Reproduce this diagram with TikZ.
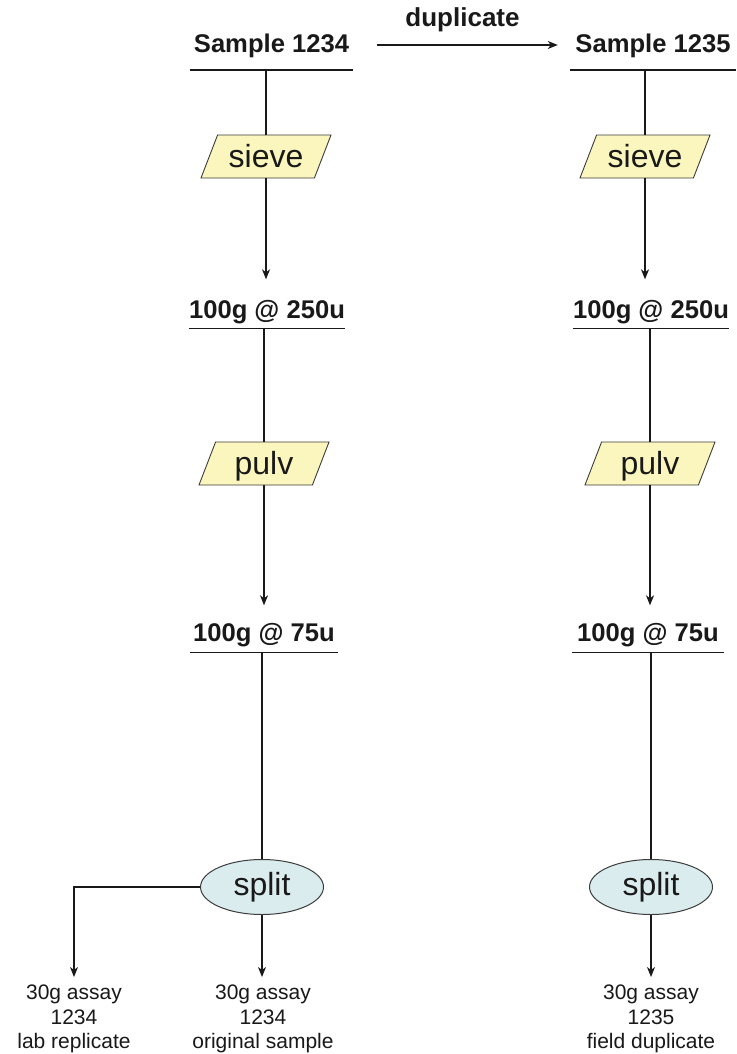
\documentclass[tikz,border=0pt]{standalone}
\usepackage{fontspec}
\setmainfont{Liberation Sans}
\usetikzlibrary{shapes.geometric,arrows.meta,calc}
\definecolor{procfill}{RGB}{250,246,190}
\definecolor{splitfill}{RGB}{218,236,238}
\definecolor{ink}{RGB}{25,25,25}
\begin{document}
\begin{tikzpicture}[x=1pt,y=-1pt,
  every node/.style={text=ink},
  lbl/.style={font=\bfseries\fontsize{25.6}{30}\selectfont, inner sep=0pt, text height=18.5pt, anchor=base},
  proc/.style={shape=trapezium, trapezium left angle=53, trapezium right angle=127, trapezium stretches body,
    minimum width=130pt, minimum height=43pt, inner sep=0pt, text height=22pt, text depth=0pt,
    draw=ink!85, fill=procfill, line width=0.9pt, font=\fontsize{32}{36}\selectfont},
  splitnode/.style={ellipse, minimum width=123pt, minimum height=55pt, inner sep=0pt,
    draw=ink!85, fill=splitfill, line width=1pt, font=\fontsize{32}{36}\selectfont},
  outnode/.style={align=center, font=\fontsize{21}{24.5}\selectfont, inner ysep=8pt, inner xsep=0pt, anchor=north},
  conn/.style={draw=ink, line width=1.2pt},
  arr/.style={conn, -{Stealth[length=10pt,width=8pt,inset=3pt]}},
  uline/.style={draw=ink, line width=1.4pt}
]
\fill[white] (0,0) rectangle (736,1054);
\useasboundingbox (0,0) rectangle (736,1054);

% labels
\node[lbl, minimum width=163pt, text depth=17pt] (s1) at (271.5,53) {Sample 1234};
\node[lbl, minimum width=166pt, text depth=17pt] (s2) at (653,53) {Sample 1235};
\node[lbl, minimum width=150pt, text depth=10pt] (a1) at (267,318) {100g @ 250u};
\node[lbl, minimum width=148pt, text depth=10pt] (a2) at (651,318) {100g @ 250u};
\node[lbl, minimum width=148pt, text depth=11pt] (b1) at (264,641) {100g @ 75u};
\node[lbl, minimum width=152pt, text depth=11pt] (b2) at (648,641) {100g @ 75u};
\foreach \n in {s1,s2,a1,a2,b1,b2}{\draw[uline] (\n.south west) -- (\n.south east);}

% processes
\node[proc] (sv1) at (266,156.5) {sieve};
\node[proc] (sv2) at (645,156.5) {sieve};
\node[proc] (pv1) at (264,463.5) {pulv};
\node[proc] (pv2) at (650,463.5) {pulv};
\node[splitnode] (sp1) at (262,887) {split};
\node[splitnode] (sp2) at (651,887) {split};

% outputs
\node[outnode] (o1) at (74,977) {30g assay\\1234\\lab replicate};
\node[outnode] (o2) at (263,977) {30g assay\\1234\\original sample};
\node[outnode] (o3) at (651,977) {30g assay\\1235\\field duplicate};

% duplicate arrow
\draw[arr] ($(s1.base east)+(24,-8)$) -- node[above=12.5pt, xshift=-5pt, inner sep=0pt, font=\bfseries\fontsize{26}{30}\selectfont] (dup) {duplicate} ($(s2.base west)+(-12,-8)$);

% left column
\draw[conn] (sv1.north |- s1.south) -- (sv1.north);
\draw[arr] (sv1.south) -- ($(sv1.south |- a1.north)+(0,-20)$);
\draw[conn] (pv1.north |- a1.south) -- (pv1.north);
\draw[arr] (pv1.south) -- ($(pv1.south |- b1.north)+(0,-17)$);
\draw[conn] (sp1.north |- b1.south) -- (sp1.north);
\draw[arr] (sp1.west) -| (o1.north);
\draw[arr] (sp1.south) -- (sp1.south |- o2.north);

% right column
\draw[conn] (sv2.north |- s2.south) -- (sv2.north);
\draw[arr] (sv2.south) -- ($(sv2.south |- a2.north)+(0,-20)$);
\draw[conn] (pv2.north |- a2.south) -- (pv2.north);
\draw[arr] (pv2.south) -- ($(pv2.south |- b2.north)+(0,-17)$);
\draw[conn] (sp2.north |- b2.south) -- (sp2.north);
\draw[arr] (sp2.south) -- (sp2.south |- o3.north);
\end{tikzpicture}
\end{document}
